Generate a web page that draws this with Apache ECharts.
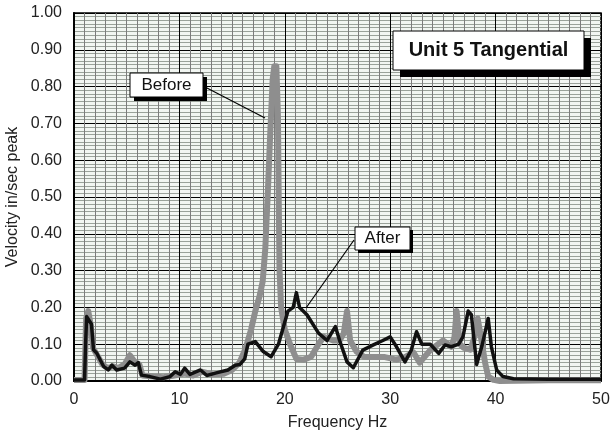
<!DOCTYPE html>
<html>
<head>
<meta charset="utf-8">
<script src="https://cdn.jsdelivr.net/npm/echarts@6/dist/echarts.min.js"></script>
<style>
html,body{margin:0;padding:0;background:#fff;}
#chart{width:611px;height:435px;}
</style>
</head>
<body>
<div id="chart"></div>
<script>
// ---- data ----
var xTicks = [0, 10, 20, 30, 40, 50];
var yTicks = [0, 0.1, 0.2, 0.3, 0.4, 0.5, 0.6, 0.7, 0.8, 0.9, 1.0];

var beforeFreq = [0,1.0,1.15,1.35,1.6,1.8,2.2,2.7,3.2,3.7,4.2,4.8,5.3,5.8,6.2,6.5,7.5,8.5,9.5,10.5,11.3,12.2,13.2,14.2,15.0,15.7,16.3,16.8,17.2,17.6,17.9,18.15,18.4,18.6,18.85,19.0,19.2,19.35,19.42,19.5,19.65,20.0,20.5,21.1,21.8,22.5,23.2,23.7,24.6,25.2,25.6,25.9,26.2,26.8,27.5,28.5,29.5,30.6,31.4,32.2,32.8,33.8,35.0,35.8,36.1,36.3,36.6,37.0,37.6,38.0,38.3,38.6,39.0,39.3,39.8,40.4,45,50];
var beforeVal  = [0.003,0.003,0.17,0.19,0.15,0.09,0.07,0.045,0.035,0.04,0.035,0.045,0.07,0.05,0.045,0.015,0.012,0.01,0.015,0.02,0.015,0.025,0.018,0.02,0.03,0.05,0.09,0.14,0.19,0.23,0.27,0.36,0.52,0.66,0.82,0.855,0.855,0.72,0.5,0.3,0.2,0.14,0.10,0.06,0.058,0.066,0.10,0.12,0.11,0.11,0.13,0.19,0.11,0.08,0.066,0.065,0.065,0.058,0.065,0.078,0.05,0.084,0.11,0.093,0.12,0.19,0.10,0.09,0.085,0.12,0.17,0.12,0.05,0.012,0.003,0.0,0.002,0.002];

var afterFreq = [0,1.0,1.1,1.2,1.65,1.85,2.15,2.8,3.25,3.6,4.05,4.8,5.3,5.8,6.1,6.4,7.2,8.2,9.1,9.6,10.1,10.5,11.0,12.0,12.6,13.5,14.6,15.3,15.75,16.2,16.5,17.2,17.96,18.7,19.4,19.6,20.3,20.8,21.1,21.4,22.1,23.2,24.0,24.8,25.2,25.9,26.5,27.4,28.4,29.3,30.0,30.6,31.4,32.0,32.5,33.0,33.8,34.6,35.2,35.8,36.5,36.9,37.4,37.7,38.2,38.7,39.3,39.6,40.1,40.7,41.7,45,50];
var afterVal  = [0.003,0.003,0.1,0.175,0.155,0.085,0.076,0.04,0.03,0.043,0.03,0.035,0.052,0.043,0.05,0.016,0.012,0.005,0.012,0.025,0.018,0.035,0.018,0.03,0.015,0.022,0.03,0.043,0.045,0.06,0.10,0.107,0.08,0.066,0.10,0.12,0.19,0.20,0.24,0.20,0.18,0.13,0.11,0.148,0.11,0.052,0.036,0.084,0.098,0.11,0.12,0.093,0.052,0.084,0.134,0.10,0.10,0.075,0.098,0.093,0.10,0.12,0.19,0.18,0.045,0.095,0.17,0.093,0.03,0.012,0.006,0.005,0.005];

var seriesNames = ['Before', 'After'];
var chartTitle = 'Unit 5 Tangential';
var xName = 'Frequency Hz';
var yName = 'Velocity in/sec peak';

function zip(a, b) { return a.map(function (v, i) { return [v, b[i]]; }); }

var FONT = '"Liberation Sans", Arial, sans-serif';
var chart = echarts.init(document.getElementById('chart'), null, {renderer: 'canvas'});

function labelBox(x, y, w, h, off, text, fontSize, bold) {
  return [
    {type: 'rect', z: 100, shape: {x: x + off, y: y + off, width: w, height: h}, style: {fill: '#000'}},
    {type: 'rect', z: 101, shape: {x: x, y: y, width: w, height: h}, style: {fill: '#fff', stroke: '#000', lineWidth: 1}},
    {type: 'text', z: 102, x: x + w / 2, y: y + h / 2, style: {text: text, fill: '#111', font: (bold ? 'bold ' : '') + fontSize + 'px ' + FONT, textAlign: 'center', textVerticalAlign: 'middle'}}
  ];
}

var graphics = [].concat(
  [{type: 'line', z: 99, shape: {x1: 205, y1: 87, x2: 265, y2: 118}, style: {stroke: '#000', lineWidth: 1.2}}],
  labelBox(130, 73, 73, 24, 4, seriesNames[0], 17, false),
  [{type: 'line', z: 99, shape: {x1: 354, y1: 240, x2: 306, y2: 308}, style: {stroke: '#000', lineWidth: 1.2}}],
  labelBox(355, 227, 55, 23, 3, seriesNames[1], 17, false),
  labelBox(393, 31, 191, 39, 7, chartTitle, 20, true)
);

var option = {
  animation: false,
  backgroundColor: '#fff',
  grid: {left: 74, right: 10, top: 13, bottom: 54, containLabel: false, outerBoundsMode: 'none',
         show: true, backgroundColor: '#f2f6f2', borderColor: '#000', borderWidth: 1.5},
  xAxis: {
    type: 'value', min: xTicks[0], max: xTicks[xTicks.length - 1], interval: 10,
    name: xName, nameLocation: 'middle', nameGap: 34, nameMoveOverlap: false,
    nameTextStyle: {fontFamily: FONT, fontSize: 16, color: '#222'},
    axisLine: {show: true, lineStyle: {color: '#000', width: 2}},
    axisTick: {show: false},
    axisLabel: {fontFamily: FONT, fontSize: 16, color: '#222', margin: 11},
    splitLine: {show: true, lineStyle: {color: '#000', width: 1}},
    minorTick: {show: false, splitNumber: 10},
    minorSplitLine: {show: true, lineStyle: {color: '#7c7c7c', width: 1}}
  },
  yAxis: {
    type: 'value', min: yTicks[0], max: yTicks[yTicks.length - 1], interval: 0.1,
    name: yName, nameLocation: 'middle', nameGap: 53, nameMoveOverlap: false,
    nameTextStyle: {fontFamily: FONT, fontSize: 16, color: '#222'},
    axisLine: {show: true, lineStyle: {color: '#000', width: 2}},
    axisTick: {show: false},
    axisLabel: {fontFamily: FONT, fontSize: 16, color: '#222', margin: 12, formatter: function (v) { return v.toFixed(2); }},
    splitLine: {show: true, lineStyle: {color: '#000', width: 1}},
    minorTick: {show: false, splitNumber: 10},
    minorSplitLine: {show: true, lineStyle: {color: '#9aa29a', width: 1}}
  },
  series: [
    {name: seriesNames[0], type: 'line', data: zip(beforeFreq, beforeVal), showSymbol: false, symbol: 'none',
     lineStyle: {color: '#8e8e8e', width: 6, join: 'round'}, z: 3},
    {name: seriesNames[1], type: 'line', data: zip(afterFreq, afterVal), showSymbol: false, symbol: 'none',
     lineStyle: {color: '#111', width: 3.5, join: 'round'}, z: 4}
  ],
  graphic: graphics
};
chart.setOption(option);
</script>
</body>
</html>
